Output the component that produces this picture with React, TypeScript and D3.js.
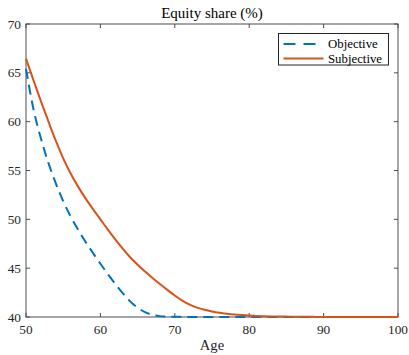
import React from "react";
import * as d3 from "d3";

// Age grid and the two equity-share paths (percent)
const ages: number[] = d3.range(50, 101);

const objective: number[] = [
  65.4, 61.3, 58.3, 55.8, 53.7, 51.85, 50.3, 48.95, 47.7, 46.55,
  45.45, 44.4, 43.4, 42.45, 41.6, 40.95, 40.5, 40.22, 40.09, 40.04,
  40.02, 40.01, 40.0, 40.0, 40.0, 40.0, 40.0, 40.0, 40.0, 40.0,
  40.0, 40.0, 40.0, 40.0, 40.0, 40.0, 40.0, 40.0, 40.0, 40.0,
  40.0, 40.0, 40.0, 40.0, 40.0, 40.0, 40.0, 40.0, 40.0, 40.0,
  40.0,
];

const subjective: number[] = [
  66.45, 64.25, 62.1, 60.05, 58.05, 56.25, 54.7, 53.35, 52.15, 51.05,
  50.0, 48.95, 47.95, 47.0, 46.12, 45.35, 44.65, 44.0, 43.38, 42.78,
  42.2, 41.68, 41.26, 40.96, 40.74, 40.57, 40.44, 40.34, 40.26, 40.2,
  40.15, 40.11, 40.08, 40.06, 40.05, 40.04, 40.03, 40.02, 40.02, 40.01,
  40.01, 40.01, 40.0, 40.0, 40.0, 40.0, 40.0, 40.0, 40.0, 40.0,
  40.0,
];

const xTicks: number[] = [50, 60, 70, 80, 90, 100];
const yTicks: number[] = [40, 45, 50, 55, 60, 65, 70];

const seriesNames: string[] = ["Objective", "Subjective"];
const seriesColors: string[] = ["#0072BD", "#D95319"];

const W = 409;
const H = 355;
const margin = { left: 26, right: 11, top: 24, bottom: 38 };
const FONT = "'Liberation Serif', 'Times New Roman', serif";
const AXIS = "#4d4d4d";

export default function App() {
  const x = d3
    .scaleLinear()
    .domain([50, 100])
    .range([margin.left, W - margin.right]);
  const y = d3
    .scaleLinear()
    .domain([40, 70])
    .range([H - margin.bottom, margin.top]);

  const line = d3
    .line<[number, number]>()
    .x((d) => x(d[0]))
    .y((d) => y(d[1]))
    .curve(d3.curveMonotoneX);

  const objPath = line(ages.map((a, i) => [a, objective[i]]));
  const subjPath = line(ages.map((a, i) => [a, subjective[i]]));

  const x0 = x(50);
  const x1 = x(100);
  const y0 = y(40);
  const y1 = y(70);
  const tick = 4;

  const legX = 278.5;
  const legY = 33.5;
  const legW = 110;
  const legH = 31.5;

  return (
    <svg
      width={W}
      height={H}
      style={{ position: "absolute", left: 0, top: 0, background: "#fff" }}
      fontFamily={FONT}
    >
      <rect x={0} y={0} width={W} height={H} fill="#fff" />

      {/* axes box */}
      <rect
        x={x0}
        y={y1}
        width={x1 - x0}
        height={y0 - y1}
        fill="none"
        stroke={AXIS}
        strokeWidth={1}
      />

      {/* x ticks, bottom and top, pointing inward */}
      {xTicks.map((t) => (
        <g key={"x" + t}>
          <line x1={x(t)} x2={x(t)} y1={y0} y2={y0 - tick} stroke={AXIS} />
          <line x1={x(t)} x2={x(t)} y1={y1} y2={y1 + tick} stroke={AXIS} />
          <text
            x={x(t)}
            y={y0 + 17}
            textAnchor="middle"
            fontSize={13.3}
            fill="#262626"
          >
            {t}
          </text>
        </g>
      ))}

      {/* y ticks, left and right, pointing inward */}
      {yTicks.map((t) => (
        <g key={"y" + t}>
          <line x1={x0} x2={x0 + tick} y1={y(t)} y2={y(t)} stroke={AXIS} />
          <line x1={x1} x2={x1 - tick} y1={y(t)} y2={y(t)} stroke={AXIS} />
          <text
            x={x0 - 5}
            y={y(t)}
            dy="0.34em"
            textAnchor="end"
            fontSize={13.3}
            fill="#262626"
          >
            {t}
          </text>
        </g>
      ))}

      {/* data */}
      <path
        d={objPath ?? ""}
        fill="none"
        stroke={seriesColors[0]}
        strokeWidth={2}
        strokeDasharray="10,6"
      />
      <path
        d={subjPath ?? ""}
        fill="none"
        stroke={seriesColors[1]}
        strokeWidth={2}
      />

      {/* title and axis label */}
      <text
        x={(x0 + x1) / 2}
        y={18}
        textAnchor="middle"
        fontSize={15}
        fill="#000"
      >
        Equity share (%)
      </text>
      <text
        x={(x0 + x1) / 2}
        y={350}
        textAnchor="middle"
        fontSize={14.6}
        fill="#262626"
      >
        Age
      </text>

      {/* legend */}
      <rect
        x={legX}
        y={legY}
        width={legW}
        height={legH}
        fill="#fff"
        stroke="#262626"
        strokeWidth={1}
      />
      {seriesNames.map((name, i) => {
        const ly = legY + 10.5 + i * 14.5;
        return (
          <g key={name}>
            <line
              x1={legX + 5}
              x2={legX + 45}
              y1={ly}
              y2={ly}
              stroke={seriesColors[i]}
              strokeWidth={2}
              strokeDasharray={i === 0 ? "12,8" : undefined}
            />
            <text
              x={legX + 49.5}
              y={ly}
              dy="0.32em"
              fontSize={12.8}
              fill="#000"
            >
              {name}
            </text>
          </g>
        );
      })}
    </svg>
  );
}
